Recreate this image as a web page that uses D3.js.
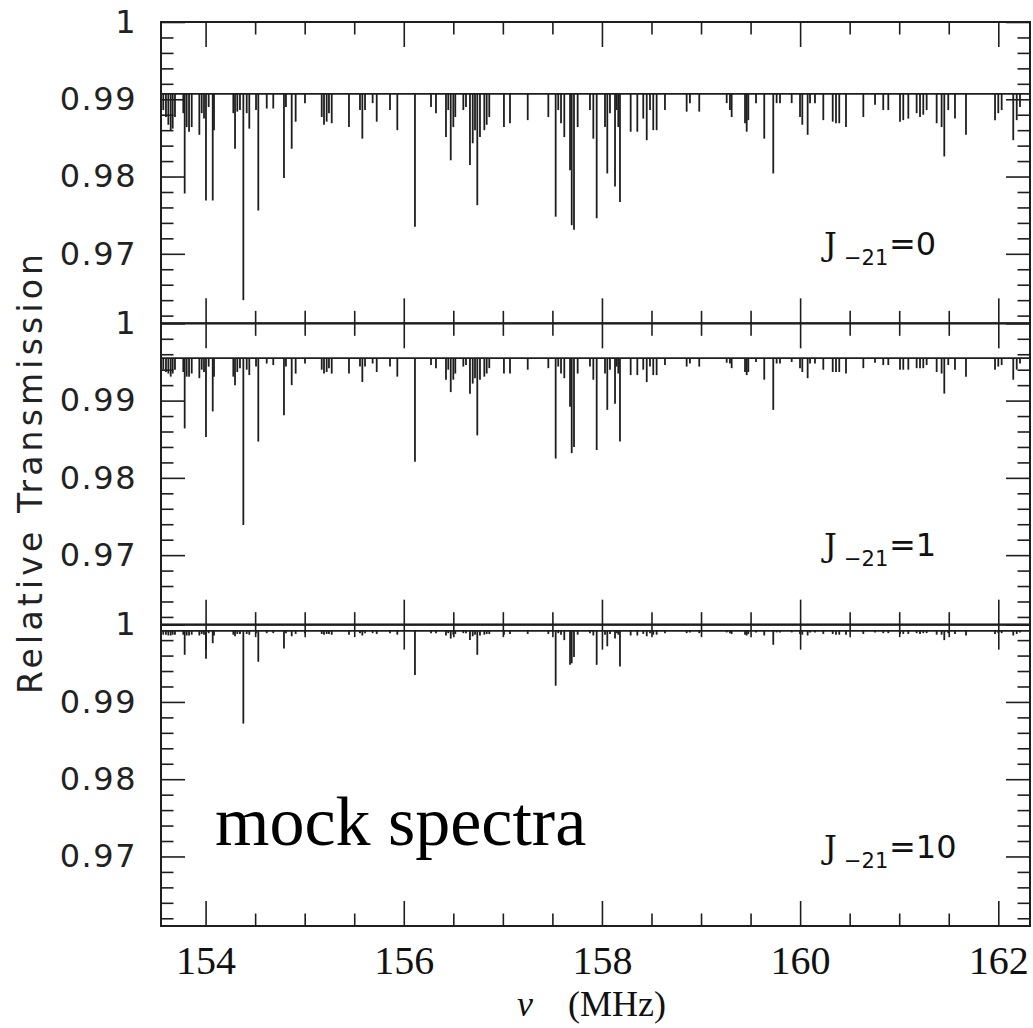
<!DOCTYPE html>
<html>
<meta charset='utf-8'>
<head>
<title>mock spectra</title>
<script src='https://d3js.org/d3.v7.min.js'></script>
<style>
body { margin: 0; background: #fff; }
</style>
</head>
<body>
<div id='chart'></div>
<script>

// absorption line positions (MHz)
var lineFreq = [
    153.573, 153.600, 153.624, 153.648, 153.668, 153.691, 153.775, 153.789, 153.809, 153.833,
    153.860, 153.937, 153.961, 153.984, 154.004, 154.031, 154.072, 154.085, 154.280, 154.297,
    154.320, 154.347, 154.381, 154.415, 154.441, 154.509, 154.532, 154.617, 154.683, 154.791,
    154.811, 154.869, 154.909, 155.003, 155.172, 155.195, 155.222, 155.245, 155.273, 155.447,
    155.558, 155.582, 155.609, 155.686, 155.727, 155.861, 155.935, 156.113, 156.275, 156.325,
    156.426, 156.449, 156.474, 156.500, 156.520, 156.601, 156.628, 156.668, 156.696, 156.719,
    156.742, 156.769, 156.813, 156.837, 156.863, 157.011, 157.072, 157.251, 157.459, 157.533,
    157.559, 157.587, 157.620, 157.678, 157.695, 157.718, 157.755, 157.879, 157.913, 157.947,
    158.031, 158.054, 158.081, 158.132, 158.149, 158.165, 158.182, 158.290, 158.357, 158.417,
    158.452, 158.485, 158.518, 158.552, 158.636, 158.855, 158.888, 158.982, 159.259, 159.292,
    159.309, 159.444, 159.461, 159.477, 159.555, 159.638, 159.729, 159.763, 159.797, 159.915,
    159.999, 160.022, 160.076, 160.100, 160.150, 160.234, 160.329, 160.362, 160.395, 160.463,
    160.638, 160.756, 160.839, 160.890, 161.008, 161.041, 161.092, 161.176, 161.210, 161.243,
    161.277, 161.378, 161.428, 161.455, 161.495, 161.563, 161.674, 161.967, 162.000, 162.034,
    162.151, 162.186, 162.219
];

// minimum transmission of each line, J_-21 = 0
var minJ0 = [
    0.9886, 0.9877, 0.9867, 0.9860, 0.9862, 0.9877, 0.9882, 0.9778, 0.9864, 0.9858,
    0.9864, 0.9854, 0.9882, 0.9875, 0.9769, 0.9890, 0.9769, 0.9860, 0.9882, 0.9836,
    0.9884, 0.9886, 0.9640, 0.9882, 0.9862, 0.9886, 0.9756, 0.9888, 0.9888, 0.9798,
    0.9890, 0.9836, 0.9871, 0.9895, 0.9877, 0.9867, 0.9871, 0.9882, 0.9869, 0.9864,
    0.9886, 0.9849, 0.9886, 0.9895, 0.9871, 0.9886, 0.9860, 0.9735, 0.9890, 0.9882,
    0.9851, 0.9886, 0.9821, 0.9864, 0.9877, 0.9886, 0.9890, 0.9815, 0.9843, 0.9860,
    0.9763, 0.9851, 0.9860, 0.9867, 0.9877, 0.9864, 0.9869, 0.9873, 0.9877, 0.9748,
    0.9886, 0.9869, 0.9851, 0.9808, 0.9737, 0.9731, 0.9864, 0.9886, 0.9849, 0.9746,
    0.9864, 0.9804, 0.9882, 0.9787, 0.9886, 0.9864, 0.9767, 0.9858, 0.9858, 0.9875,
    0.9847, 0.9886, 0.9860, 0.9860, 0.9886, 0.9884, 0.9895, 0.9884, 0.9895, 0.9886,
    0.9877, 0.9869, 0.9858, 0.9873, 0.9895, 0.9849, 0.9804, 0.9895, 0.9895, 0.9895,
    0.9877, 0.9867, 0.9854, 0.9895, 0.9895, 0.9873, 0.9871, 0.9869, 0.9869, 0.9864,
    0.9877, 0.9893, 0.9886, 0.9886, 0.9871, 0.9873, 0.9875, 0.9882, 0.9877, 0.9880,
    0.9886, 0.9869, 0.9864, 0.9826, 0.9886, 0.9875, 0.9854, 0.9873, 0.9882, 0.9886,
    0.9847, 0.9873, 0.9890
];

// J_-21 = 1
var minJ1 = [
    0.9940, 0.9937, 0.9935, 0.9931, 0.9935, 0.9940, 0.9937, 0.9864, 0.9931, 0.9931,
    0.9935, 0.9929, 0.9940, 0.9937, 0.9853, 0.9944, 0.9886, 0.9931, 0.9931, 0.9920,
    0.9937, 0.9942, 0.9739, 0.9940, 0.9933, 0.9944, 0.9847, 0.9948, 0.9946, 0.9881,
    0.9944, 0.9920, 0.9935, 0.9948, 0.9940, 0.9935, 0.9937, 0.9942, 0.9935, 0.9935,
    0.9944, 0.9924, 0.9944, 0.9948, 0.9937, 0.9944, 0.9931, 0.9821, 0.9946, 0.9942,
    0.9927, 0.9940, 0.9911, 0.9927, 0.9935, 0.9944, 0.9946, 0.9909, 0.9922, 0.9929,
    0.9855, 0.9927, 0.9931, 0.9935, 0.9942, 0.9935, 0.9935, 0.9940, 0.9942, 0.9825,
    0.9944, 0.9935, 0.9929, 0.9892, 0.9832, 0.9840, 0.9935, 0.9944, 0.9927, 0.9836,
    0.9935, 0.9888, 0.9940, 0.9896, 0.9944, 0.9935, 0.9847, 0.9933, 0.9933, 0.9940,
    0.9924, 0.9944, 0.9933, 0.9933, 0.9946, 0.9944, 0.9948, 0.9944, 0.9949, 0.9948,
    0.9942, 0.9937, 0.9933, 0.9937, 0.9950, 0.9927, 0.9888, 0.9948, 0.9948, 0.9950,
    0.9942, 0.9937, 0.9929, 0.9948, 0.9948, 0.9940, 0.9937, 0.9937, 0.9937, 0.9935,
    0.9942, 0.9949, 0.9946, 0.9946, 0.9940, 0.9940, 0.9940, 0.9942, 0.9942, 0.9942,
    0.9946, 0.9937, 0.9935, 0.9909, 0.9946, 0.9940, 0.9931, 0.9940, 0.9944, 0.9946,
    0.9927, 0.9940, 0.9948
];

// J_-21 = 10
var minJ10 = [
    0.9987, 0.9987, 0.9986, 0.9986, 0.9987, 0.9987, 0.9987, 0.9961, 0.9986, 0.9986,
    0.9987, 0.9986, 0.9988, 0.9987, 0.9956, 0.9989, 0.9976, 0.9986, 0.9987, 0.9985,
    0.9988, 0.9988, 0.9872, 0.9988, 0.9987, 0.9989, 0.9952, 0.9989, 0.9989, 0.9969,
    0.9989, 0.9985, 0.9988, 0.9989, 0.9988, 0.9987, 0.9988, 0.9988, 0.9987, 0.9987,
    0.9989, 0.9986, 0.9989, 0.9989, 0.9988, 0.9989, 0.9987, 0.9935, 0.9989, 0.9989,
    0.9986, 0.9989, 0.9982, 0.9987, 0.9988, 0.9989, 0.9989, 0.9980, 0.9985, 0.9987,
    0.9961, 0.9986, 0.9987, 0.9988, 0.9988, 0.9987, 0.9988, 0.9988, 0.9988, 0.9921,
    0.9989, 0.9987, 0.9980, 0.9948, 0.9950, 0.9958, 0.9987, 0.9989, 0.9986, 0.9948,
    0.9987, 0.9972, 0.9988, 0.9982, 0.9989, 0.9987, 0.9946, 0.9986, 0.9986, 0.9988,
    0.9985, 0.9989, 0.9987, 0.9987, 0.9989, 0.9989, 0.9990, 0.9989, 0.9990, 0.9989,
    0.9988, 0.9987, 0.9986, 0.9988, 0.9990, 0.9986, 0.9974, 0.9990, 0.9990, 0.9990,
    0.9988, 0.9987, 0.9986, 0.9990, 0.9990, 0.9988, 0.9988, 0.9987, 0.9987, 0.9987,
    0.9988, 0.9990, 0.9989, 0.9989, 0.9988, 0.9988, 0.9988, 0.9989, 0.9988, 0.9989,
    0.9989, 0.9987, 0.9987, 0.9980, 0.9989, 0.9988, 0.9986, 0.9988, 0.9989, 0.9989,
    0.9986, 0.9988, 0.9990
];

var continuum = [0.9907, 0.9955, 0.9992];
var panelJ = ['0', '1', '10'];
var panelMins = [minJ0, minJ1, minJ10];

var yMajor = [0.97, 0.98, 0.99, 1.0];
var yMajorLabels = ['0.97', '0.98', '0.99', '1'];
var xMajor = [154, 156, 158, 160, 162];
var xMajorLabels = ['154', '156', '158', '160', '162'];

var W = 1033, H = 1028;
var margin = {top: 22, right: 3, bottom: 102, left: 161};
var plotW = W - margin.left - margin.right;
var panelH = (H - margin.top - margin.bottom) / 3;

var yMinor = d3.range(0.962, 0.9995, 0.002).filter(function(v) {
    return yMajor.every(function(m) { return Math.abs(m - v) > 1e-6 });
});
var xMinor = d3.range(154, 162.3, 0.5).filter(function(v) { return v % 2 != 0 });

var svg = d3.select('#chart')
    .append('svg')
    .attr('width', W)
    .attr('height', H);

var x = d3.scaleLinear()
    .domain([153.55, 162.32])
    .range([0, plotW]);

var ink = '#1e1e1e';

function styleAxis(g) {
    g.select('.domain').remove();
    g.selectAll('.tick line').attr('stroke', ink).attr('stroke-width', 1.6);
}

panelMins.forEach(function(mins, p) {
    var g = svg.append('g')
        .attr('transform', 'translate(' + margin.left + ',' + (margin.top + p * panelH) + ')');

    var y = d3.scaleLinear()
        .domain([0.961, 1.0])
        .range([panelH, 0]);

    // continuum
    g.append('line')
        .attr('x1', 0).attr('x2', plotW)
        .attr('y1', y(continuum[p])).attr('y2', y(continuum[p]))
        .attr('stroke', ink).attr('stroke-width', 1.6);

    // absorption lines
    g.append('g')
        .selectAll('line')
        .data(lineFreq)
        .enter()
        .append('line')
        .attr('x1', function(d) { return x(d) })
        .attr('x2', function(d) { return x(d) })
        .attr('y1', y(continuum[p]))
        .attr('y2', function(d, i) { return y(mins[i]) })
        .attr('stroke', ink)
        .attr('stroke-width', 1.8);

    // ticks, all pointing inward
    g.append('g')
        .call(d3.axisLeft(y).tickValues(yMajor).tickSize(-24).tickPadding(24)
            .tickFormat(function(d, i) { return yMajorLabels[i] }))
        .call(styleAxis)
        .selectAll('text')
        .attr('font-family', 'DejaVu Sans')
        .attr('font-size', 32)
        .attr('letter-spacing', 1.5)
        .attr('fill', '#222');
    g.append('g')
        .call(d3.axisLeft(y).tickValues(yMinor).tickSize(-12.5).tickFormat(''))
        .call(styleAxis);
    g.append('g')
        .attr('transform', 'translate(' + plotW + ',0)')
        .call(d3.axisRight(y).tickValues(yMajor).tickSize(-24).tickFormat(''))
        .call(styleAxis);
    g.append('g')
        .attr('transform', 'translate(' + plotW + ',0)')
        .call(d3.axisRight(y).tickValues(yMinor).tickSize(-12.5).tickFormat(''))
        .call(styleAxis);
    g.append('g')
        .call(d3.axisTop(x).tickValues(xMajor).tickSize(-25).tickFormat(''))
        .call(styleAxis);
    g.append('g')
        .call(d3.axisTop(x).tickValues(xMinor).tickSize(-12.5).tickFormat(''))
        .call(styleAxis);
    var bottomAxis = g.append('g')
        .attr('transform', 'translate(0,' + panelH + ')')
        .call(d3.axisBottom(x).tickValues(xMajor).tickSize(-25)
            .tickFormat(function(d, i) { return p == 2 ? xMajorLabels[i] : '' }))
        .call(styleAxis);
    bottomAxis.selectAll('text')
        .attr('y', 47.5)
        .attr('dy', null)
        .attr('font-family', 'Liberation Serif')
        .attr('font-size', 40)
        .attr('fill', '#111');
    g.append('g')
        .attr('transform', 'translate(0,' + panelH + ')')
        .call(d3.axisBottom(x).tickValues(xMinor).tickSize(-12.5).tickFormat(''))
        .call(styleAxis);

    // frame
    g.append('rect')
        .attr('width', plotW)
        .attr('height', panelH)
        .attr('fill', 'none')
        .attr('stroke', ink)
        .attr('stroke-width', 2);

    // J_-21 label
    var lab = g.append('text')
        .attr('y', 233)
        .attr('font-family', 'DejaVu Sans')
        .attr('font-size', 32)
        .attr('fill', '#111');
    lab.append('tspan').attr('x', 663).attr('font-family', 'DejaVu Serif').text('J');
    lab.append('tspan').attr('x', 683).attr('dy', 10).attr('font-size', 21).text('\u221221');
    lab.append('tspan').attr('x', 728).attr('dy', -10).text('=' + panelJ[p]);
});

// y axis title
svg.append('text')
    .attr('transform', 'translate(42,' + (margin.top + 1.5 * panelH) + ') rotate(-90)')
    .attr('text-anchor', 'middle')
    .attr('font-family', 'DejaVu Sans')
    .attr('font-size', 33)
    .attr('textLength', 440)
    .attr('lengthAdjust', 'spacing')
    .attr('fill', '#222')
    .text('Relative Transmission');

// x axis title
var xt = svg.append('text')
    .attr('y', 1016)
    .attr('font-family', 'Liberation Serif')
    .attr('font-size', 36)
    .attr('fill', '#111');
xt.append('tspan').attr('x', 517).attr('font-style', 'italic').text('\u03bd');
xt.append('tspan').attr('x', 568).text('(MHz)');

svg.append('text')
    .attr('x', 215)
    .attr('y', 845)
    .attr('font-family', 'Liberation Serif')
    .attr('font-size', 70)
    .attr('fill', '#000')
    .text('mock spectra');

</script>
</body>
</html>
